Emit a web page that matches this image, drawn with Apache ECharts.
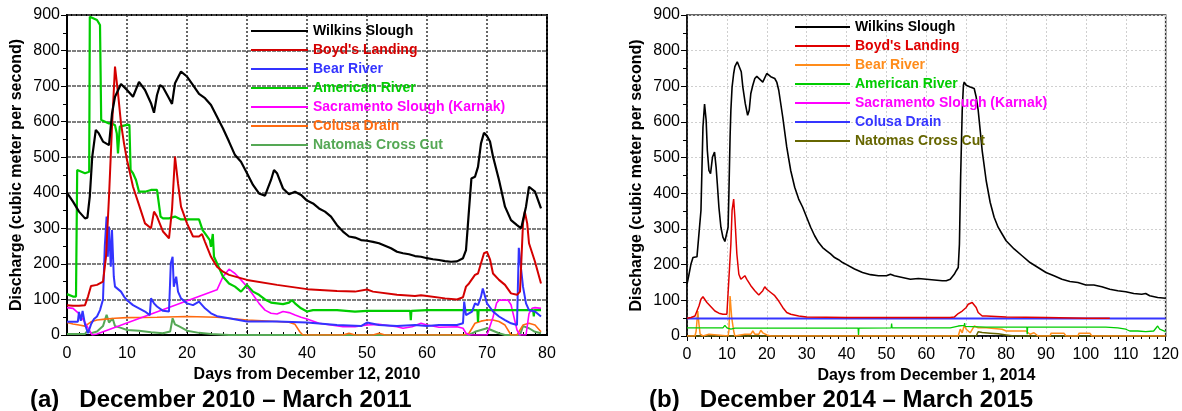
<!DOCTYPE html>
<html><head><meta charset="utf-8">
<script src="https://cdn.jsdelivr.net/npm/echarts@6/dist/echarts.min.js"></script>
<style>html,body{margin:0;padding:0;background:#fff}#c{width:1182px;height:411px}</style>
</head><body><div id="c"></div>
<script>
// ---------- Panel (a): December 2010 – March 2011 ----------
const aWilkins = [[0,400],[1,375],[2,347],[3,328],[3.4,330],[3.8,390],[4.2,500],[4.8,577],[5.3,567],[6,544],[7,534],[7.5,623],[8,670],[9,706],[10,689],[11,670],[12,712],[13,689],[14,652],[14.5,625],[15,675],[15.5,703],[16,697],[17,666],[17.5,650],[18,708],[19,741],[20,727],[21,703],[22,678],[23,666],[24,647],[25,614],[26,581],[27,544],[28,506],[29,487],[30,455],[31,422],[32,398],[33,392],[34,436],[34.5,464],[35,455],[36,412],[37,396],[38,403],[39,394],[40,378],[41,370],[42,356],[43,347],[44,333],[45,309],[46,291],[47,277],[48,274],[49,267],[50,265],[51,262],[52,258],[53,251],[54,244],[55,234],[56,230],[57,227],[58,222],[59,220],[60,216],[61,213],[62,211],[63,208],[64,206],[65,207],[66,216],[66.5,239],[67,352],[67.4,440],[68,445],[68.5,473],[69,539],[69.5,569],[70,560],[70.5,544],[71,502],[72,436],[73,361],[74,323],[75,309],[75.7,300],[76.5,361],[77,417],[77.3,422],[78,403],[79,356]];
const aBoyds = [[0,84],[1,82],[2,82],[3,84],[3.5,108],[4,138],[5,141],[6,150],[6.5,220],[7,389],[7.5,586],[8,755],[8.5,680],[9,595],[9.5,539],[10,492],[10.5,455],[11,417],[12,366],[13,314],[14,300],[14.5,347],[15,333],[16,291],[17,272],[17.5,352],[18,502],[18.5,427],[19,361],[20,314],[21,277],[22,277],[22.5,284],[23,262],[24,220],[25,192],[26,178],[27,169],[30,155],[35,141],[40,129],[45,124],[48,122],[50,128],[51,122],[55,113],[58,110],[59,112],[60,110],[63,103],[65,100],[66,106],[66.5,136],[67,145],[68,169],[68.5,173],[69,202],[69.5,230],[70,234],[70.5,213],[71,173],[72,155],[73,141],[74,117],[75,113],[75.5,122],[76,314],[76.3,347],[76.7,314],[77,258],[78,206],[79,145]];
const aBear = [[0,37],[1,37],[1.8,37],[2,65],[2.3,40],[2.6,68],[3,30],[3.5,5],[4,30],[4.5,45],[5,52],[5.5,70],[6,100],[6.3,250],[6.6,333],[6.8,220],[7,305],[7.3,192],[7.5,295],[7.8,164],[8,136],[9,122],[9.5,108],[10,98],[11,84],[12,75],[13,66],[13.8,56],[14,103],[14.5,89],[15,80],[16,68],[17,66],[17.3,202],[17.6,220],[17.8,136],[18.2,164],[18.5,122],[19,103],[20,89],[21,84],[22,94],[23,75],[24,61],[25,53],[27,47],[30,38],[35,38],[40,35],[45,28],[49,25],[50,35],[52,28],[55,25],[58,28],[60,25],[62,28],[65,28],[66,33],[66.2,94],[66.5,56],[67,61],[67.5,66],[68,89],[68.5,84],[69,108],[69.3,131],[70,89],[71,66],[72,52],[73,42],[74,33],[75,28],[75.3,245],[76,136],[76.5,89],[77,70],[78,66],[79,52]];
const aAmerican = [[0,115],[1,108],[1.5,108],[1.7,464],[2,459],[3,455],[3.7,459],[3.8,895],[4,891],[5,886],[5.5,872],[5.7,605],[6,600],[7,595],[7.5,595],[8,590],[8.3,567],[8.5,511],[8.8,586],[9,591],[10,591],[10.4,591],[10.6,464],[11,455],[11.5,436],[12,403],[13,403],[14,408],[15,408],[15.3,403],[15.6,333],[16,328],[17,328],[18,333],[19,325],[20,325],[22,325],[22.3,323],[22.6,295],[23,286],[23.8,267],[24,248],[24.3,284],[24.5,220],[25,202],[26,164],[27,145],[28,136],[29,122],[30,141],[31,122],[32,113],[33,100],[34,91],[35,89],[36,87],[37,91],[37.5,98],[38,89],[39,75],[40,66],[41,70],[45,70],[48,66],[50,68],[55,68],[57.2,68],[57.3,42],[57.4,68],[60,70],[65,70],[68.4,70],[68.5,37],[68.6,70],[70,70],[75,70],[77.7,70],[77.8,52],[77.9,70],[79,70]];
const aSacramento = [[0,77],[1,75],[2,60],[3,35],[3.5,20],[4.2,0],[5,3],[25,127],[26,164],[27,185],[28,173],[29,155],[30,136],[31,113],[32,89],[33,70],[34,61],[35,59],[36,66],[37,63],[38,56],[39,50],[40,45],[42,33],[44,28],[46,23],[48,23],[50,28],[52,30],[55,23],[56,19],[57.5,23],[59,33],[60,28],[62,22],[65,23],[66,19],[66.5,5],[67,0],[70,0],[71,50],[71.6,90],[72,98],[73.5,98],[74,85],[74.5,50],[75,14],[75.5,0],[76.5,0],[77,60],[77.5,75],[78,77],[79,75]];
const aColusa = [[0,35],[1,31],[2,28],[3,25],[4,37],[5,42],[6,44],[8,47],[10,49],[15,50],[20,52],[25,50],[30,42],[35,38],[37,36],[38,30],[38.8,9],[39.3,0],[46,0],[47,5],[48,0],[51,0],[52,5],[53,0],[66,0],[67,5],[68,33],[69,39],[70,42],[71,42],[72,38],[73,28],[74,0],[75,0],[75.5,14],[76,28],[77,33],[78,28],[79,9]];
const aNatomas = [[0,3],[3,3],[3.5,14],[4,5],[5,10],[6,25],[6.6,57],[7,35],[7.6,47],[8,25],[9,20],[10,14],[12,12],[14,8],[16,5],[17.2,10],[17.6,47],[18,30],[18.7,24],[20,12],[22,6],[24,3],[27,0],[67,0],[68,9],[69,14],[70,19],[71,12],[72,5],[73,0],[75.5,0],[76,25],[77,19],[78,9],[79,5]];

// ---------- Panel (b): December 2014 – March 2015 ----------
const bWilkins = [[0,145],[0.5,173],[1,202],[1.5,220],[2,225],[2.5,222],[3,220],[3.5,352],[4,586],[4.4,650],[4.8,605],[5.1,520],[5.5,464],[5.9,455],[6.4,502],[6.9,516],[7.3,473],[7.6,427],[8,361],[8.5,305],[9,277],[9.5,265],[10,267],[10.3,305],[10.5,398],[10.8,558],[11,633],[11.3,698],[11.7,736],[12,755],[12.6,769],[13.1,764],[13.6,741],[14,698],[14.6,652],[15.2,619],[15.6,633],[16,680],[16.5,703],[17,722],[17.5,728],[18,727],[19,712],[19.5,712],[20,736],[20.5,736],[21,727],[22,722],[22.5,712],[23,689],[24,614],[25,530],[26,464],[27,417],[28,384],[29,361],[30,333],[31,305],[32,281],[33,262],[34,248],[35,239],[36,230],[37,220],[38,214],[39,206],[40,200],[42,188],[44,178],[46,172],[48,169],[50,169],[51,173],[52,169],[54,164],[56,159],[58,161],[60,159],[62,157],[64,155],[65,155],[66,159],[67,173],[67.5,183],[68,192],[68.3,258],[68.6,445],[69,633],[69.3,703],[69.5,712],[70,703],[71,698],[72,694],[72.5,670],[73,633],[73.5,577],[74,520],[75,436],[76,375],[77,333],[78,305],[79,286],[80,267],[82,244],[84,225],[86,206],[88,192],[90,178],[92,169],[94,159],[96,153],[98,150],[100,143],[102,143],[104,138],[106,131],[108,127],[110,124],[112,119],[114,117],[115,119],[116,113],[118,108],[120,106]];
const bBoyds = [[0,50],[1,52],[2,56],[2.5,70],[3,84],[3.5,103],[4,110],[4.5,106],[5,94],[6,82],[7,70],[8,64],[9,61],[10,61],[10.5,66],[11,258],[11.3,352],[11.7,384],[12,333],[12.5,230],[13,173],[13.5,159],[14,164],[14.5,169],[15,159],[16,141],[17,127],[18,115],[19,127],[19.5,138],[20,131],[21,122],[22,113],[23,98],[24,80],[25,66],[26,61],[28,56],[30,53],[40,52],[50,52],[60,52],[66,52],[67,53],[68,63],[69,70],[69.5,75],[70,80],[70.5,89],[71,94],[71.5,94],[72,87],[72.5,80],[73,66],[74,56],[75,56],[80,53],[90,52],[100,50],[106,50]];
const bBear = [[0,0],[2,0],[2.3,14],[2.7,70],[3,33],[3.3,5],[4,0],[5.5,5],[6,0],[10.3,0],[10.5,14],[10.8,112],[11.2,52],[11.7,14],[12,0],[14.5,5],[15,9],[16,5],[16.5,14],[17,5],[18,5],[18.5,16],[19,9],[20,3],[21,0],[68,0],[68.5,19],[69,9],[69.5,30],[70,19],[71,9],[71.5,5],[72,28],[73,23],[75,23],[79,19],[80,14],[85,14],[86,5],[87,9],[88,0],[91,0],[91.3,8],[94.5,8],[95,0],[98,0],[98.3,8],[101,8],[101.5,0],[120,0]];
const bAmerican = [[0,23],[9,23],[9.5,30],[10,23],[11,19],[12,22],[20,22],[30,22],[42.9,22],[43,3],[43.1,22],[51.2,23],[51.3,35],[51.4,23],[60,23],[66,23],[68,28],[69.5,30],[69.6,36],[69.7,27],[75,25],[85.2,25],[85.3,5],[85.4,25],[90,25],[100,25],[105,25],[108,23],[110,19],[111,14],[113,14],[115,12],[117,14],[118,28],[118.5,19],[119,14],[120,12]];
const bSacramento = [];
const bColusa = [[0,49],[60,49],[120,49]];
const bNatomas = [[0,0],[72.5,0],[73,12],[74,10],[76,8],[78,6],[80,3],[82,0],[120,0]];

const seriesNames = ["Wilkins Slough","Boyd's Landing","Bear River","American River","Sacramento Slough (Karnak)","Colusa Drain","Natomas Cross Cut"];
const colorsA = ['#000000','#d40000','#3333ff','#00cc00','#ff00ff','#ff6a10','#55a855'];
const colorsB = ['#000000','#e00000','#ff8c1a','#00cc00','#ff00ff','#3535ff','#666600'];
const dataA = [aWilkins,aBoyds,aBear,aAmerican,aSacramento,aColusa,aNatomas];
const dataB = [bWilkins,bBoyds,bBear,bAmerican,bSacramento,bColusa,bNatomas];
const xTicksA = {min:0,max:80,interval:10};
const xTicksB = {min:0,max:120,interval:10};
const yTicks = {min:0,max:900,interval:100};
const axisNames = {y:'Discharge (cubic meter per second)', xA:'Days from December 12, 2010', xB:'Days from December 1, 2014'};
const panelTitles = ['(a)   December 2010 \u2013 March 2011','(b)   December 2014 \u2013 March 2015'];

const FF = '"Liberation Sans", Arial, Helvetica, sans-serif';
const chart = echarts.init(document.getElementById('c'), null, {renderer:'canvas'});

function mkSeries(prefix, names, datas, colors, widths, idx, drawOrder){
  return drawOrder.map(i => ({
    type:'line', name: prefix + names[i], data: datas[i], xAxisIndex: idx, yAxisIndex: idx,
    showSymbol:false, symbol:'none', animation:false, silent:true,
    lineStyle:{color: colors[i], width: widths[i]}, itemStyle:{color: colors[i]}
  }));
}
const orderA = [6,5,4,3,2,1,0];
const orderB = [6,2,3,5,1,4,0];
const series = [].concat(
  mkSeries('a:', seriesNames, dataA, colorsA, [2.2,2,2,2.2,1.6,1.6,2], 0, orderA),
  mkSeries('b:', seriesNames, dataB, colorsB, [1.6,1.5,1.5,1.3,1.5,2,1.5], 1, orderB)
);

function legendData(prefix, colors){
  return seriesNames.map((n,i)=>({name: prefix+n, textStyle:{color: colors[i]}}));
}
const legendCommon = {orient:'vertical', icon:'rect', itemHeight:2, itemGap:5, selectedMode:false,
  formatter: n => n.slice(2), textStyle:{fontSize:14, fontWeight:'bold', fontFamily:FF, lineHeight:14}};

function xAxisCfg(idx, ticks, name, style){
  return {type:'value', gridIndex: idx, min:ticks.min, max:ticks.max, interval:ticks.interval,
    name:name, nameLocation:'middle', nameGap:19,
    nameTextStyle:{fontSize:16, fontWeight:'bold', fontFamily:FF, color:'#000'},
    axisLine:{show:true, onZero:false, lineStyle:{color:'#000', width: style.axisW}},
    axisLabel:{fontSize:16, fontFamily:FF, color:'#000', margin: style.labelMargin},
    axisTick:{show:true, inside: style.inside, length: 5, lineStyle:{color:'#000', width:1}},
    minorTick:{show:true, splitNumber:5, length: 3, lineStyle:{color:'#000', width:1}},
    splitLine:{show:true, lineStyle: style.xSplit}};
}
function yAxisCfg(idx, style){
  return {type:'value', gridIndex: idx, min:yTicks.min, max:yTicks.max, interval:yTicks.interval,
    name: axisNames.y, nameLocation:'middle', nameGap:42, nameRotate:90,
    nameTextStyle:{fontSize:16, fontWeight:'bold', fontFamily:FF, color:'#000'},
    axisLine:{show:true, onZero:false, lineStyle:{color:'#000', width: style.axisW}},
    axisLabel:{fontSize:16, fontFamily:FF, color:'#000', margin:7},
    axisTick:{show:true, inside:false, length:6, lineStyle:{color:'#000', width:1}},
    minorTick:{show:true, splitNumber:2, length:4, lineStyle:{color:'#000', width:1}},
    splitLine:{show:true, lineStyle: style.ySplit}};
}
const styleA = {axisW:2, labelMargin:11, inside:true,
  xSplit:{color:'#333', width:1.5, type:[2,2]}, ySplit:{color:'#555', width:1.5, type:[4,1]}};
const styleB = {axisW:1.5, labelMargin:11, inside:false,
  xSplit:{color:'#cfcfcf', width:1, type:[2,2]}, ySplit:{color:'#cfcfcf', width:1, type:[2,2]}};

chart.setOption({
  animation:false,
  backgroundColor:'#fff',
  title:[
    {text: panelTitles[0], left:25, top:383, textStyle:{fontSize:24, fontWeight:'bold', fontFamily:FF, color:'#000'}},
    {text: panelTitles[1], left:644, top:383, textStyle:{fontSize:24, fontWeight:'bold', fontFamily:FF, color:'#000'}}
  ],
  grid:[
    {left:67, right:635, top:15, bottom:76, show:true, borderColor:'#000', borderWidth:2, backgroundColor:'transparent'},
    {left:687, right:13, top:15, bottom:75, show:true, borderColor:'#333', borderWidth:1.5, backgroundColor:'transparent'}
  ],
  legend:[
    Object.assign({}, legendCommon, {left:246, top:19, itemWidth:57, data: legendData('a:', colorsA)}),
    Object.assign({}, legendCommon, {left:790, top:15, itemWidth:55, data: legendData('b:', colorsB)})
  ],
  xAxis:[ xAxisCfg(0, xTicksA, axisNames.xA, styleA), xAxisCfg(1, xTicksB, axisNames.xB, styleB) ],
  yAxis:[ yAxisCfg(0, styleA), yAxisCfg(1, styleB) ],
  series: series
});
</script></body></html>
